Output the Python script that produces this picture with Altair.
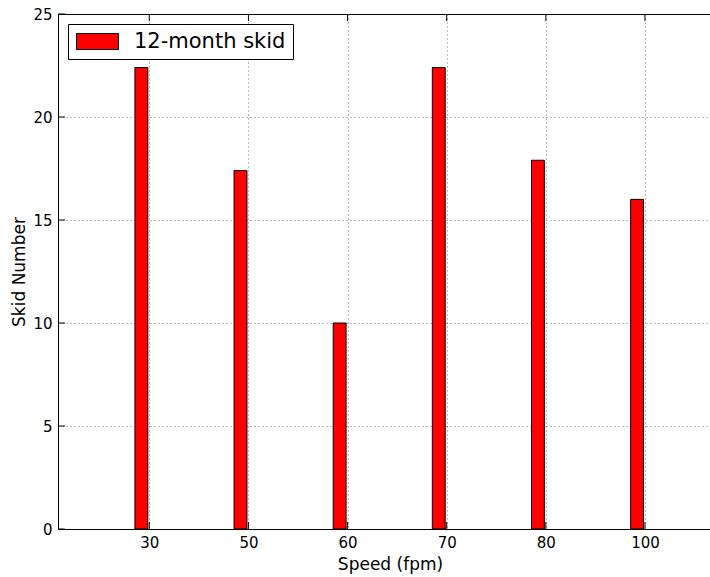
import altair as alt
import pandas as pd

# Skid number by belt speed
speeds = ["30", "50", "60", "70", "80", "100"]
skid = [22.4, 17.4, 10.0, 22.4, 17.9, 16.0]
series_name = "12-month skid"
y_ticks = [0, 5, 10, 15, 20, 25]

W, H = 652, 515
FONT = "DejaVu Sans"
BAR_LEFT, BAR_RIGHT = 0.145, 0.015   # each bar sits just left of its tick
TICK_LEN = 7

bars_df = pd.DataFrame({"idx": list(range(len(speeds))), "skid": skid,
                        "series": [series_name] * len(speeds)})
bars_df["x0"] = bars_df["idx"] - BAR_LEFT
bars_df["x1"] = bars_df["idx"] - BAR_RIGHT
yticks_df = pd.DataFrame({"v": y_ticks})

xscale = alt.Scale(domain=[-0.921, 5.656], nice=False, zero=False, padding=0)
yscale = alt.Scale(domain=[0, 25], nice=False, zero=False, padding=0)

label_expr = "[" + ",".join(f"'{s}'" for s in speeds) + "][datum.value]"

xaxis = alt.Axis(
    title="Speed (fpm)", values=list(range(len(speeds))), labelExpr=label_expr,
    grid=True, ticks=False, domain=False, labelPadding=6,
    titleX=332, titleY=40, titleBaseline="alphabetic", titleAlign="center",
)
yaxis = alt.Axis(
    title="Skid Number", values=y_ticks, grid=True, ticks=False, domain=False,
    labelPadding=6, titleX=-34, titleY=H / 2, titleBaseline="alphabetic",
    titleAlign="center",
)

bars = alt.Chart(bars_df).mark_bar(stroke="black", strokeWidth=1).encode(
    x=alt.X("x0:Q", scale=xscale, axis=xaxis),
    x2="x1",
    y=alt.Y("skid:Q", scale=yscale, axis=yaxis),
    y2=alt.datum(0),
    color=alt.Color(
        "series:N",
        scale=alt.Scale(range=["#ff0000"]),
        legend=alt.Legend(
            title=None, orient="top-left", offset=10, padding=7,
            symbolType="M-2.625,-1L2.625,-1L2.625,1L-2.625,1Z", symbolSize=256,
            symbolOffset=12, labelOffset=26,
            symbolStrokeColor="black", symbolStrokeWidth=1,
            labelFontSize=21, labelFont=FONT, labelColor="black",
            strokeColor="black", fillColor="white", cornerRadius=0,
        ),
    ),
)

# inward tick marks on the frame
left_ticks = alt.Chart(yticks_df).mark_rule(color="black", strokeWidth=1).encode(
    y=alt.Y("v:Q", scale=yscale, axis=yaxis),
    x=alt.value(0), x2=alt.value(TICK_LEN),
)
top_ticks = alt.Chart(bars_df).mark_rule(color="black", strokeWidth=1).encode(
    x=alt.X("idx:Q", scale=xscale, axis=xaxis),
    y=alt.value(0), y2=alt.value(TICK_LEN),
)
bottom_ticks = alt.Chart(bars_df).mark_rule(color="black", strokeWidth=1).encode(
    x=alt.X("idx:Q", scale=xscale, axis=xaxis),
    y=alt.value(H), y2=alt.value(H - TICK_LEN),
)

chart = (
    alt.layer(bars, left_ticks, top_ticks, bottom_ticks)
    .properties(
        width=W, height=H,
        autosize=alt.AutoSizeParams(type="none"),
        padding={"left": 58, "top": 14, "right": 0, "bottom": 48},
        background="white",
    )
    .configure_view(stroke="black", strokeWidth=1)
    .configure_axis(
        labelFont=FONT, labelFontSize=15, labelColor="black",
        titleFont=FONT, titleFontSize=17, titleFontWeight="normal", titleColor="black",
        gridColor="black", gridOpacity=0.55, gridDash=[1, 3], gridWidth=1,
    )
)

chart.save("out.html", embed_options={"renderer": "svg", "actions": False})
